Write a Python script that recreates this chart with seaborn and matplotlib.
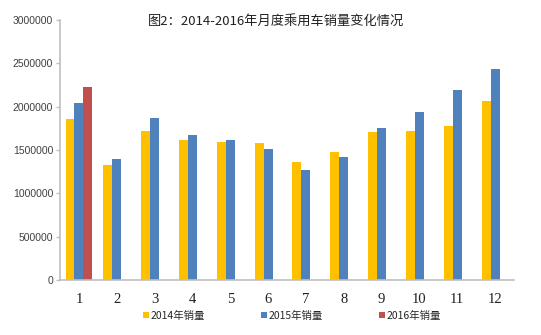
import matplotlib
matplotlib.use("Agg")
import matplotlib.pyplot as plt
import seaborn as sns
import pandas as pd
import numpy as np
from matplotlib.patches import Patch

months = ["1", "2", "3", "4", "5", "6", "7", "8", "9", "10", "11", "12"]
sales_2014 = [1857000, 1323000, 1723000, 1615000, 1596000, 1577000,
              1365000, 1477000, 1708000, 1715000, 1781000, 2069000]
sales_2015 = [2040000, 1396000, 1869000, 1673000, 1611000, 1515000,
              1269000, 1419000, 1750000, 1935000, 2196000, 2438000]
sales_2016 = [2223000] + [np.nan] * 11
series_names = ["2014年销量", "2015年销量", "2016年销量"]
colors = ["#FFC000", "#4F81BD", "#C0504D"]
yticks = [0, 500000, 1000000, 1500000, 2000000, 2500000, 3000000]

df = pd.DataFrame({
    "月份": months * 3,
    "销量": sales_2014 + sales_2015 + sales_2016,
    "系列": [s for s in series_names for _ in months],
})

sns.set_theme(style="white")
plt.rcParams["font.family"] = ["Noto Sans CJK SC", "DejaVu Sans"]

fig = plt.figure(figsize=(5.41, 3.35), dpi=100)
ax = fig.add_axes([0.111, 0.164, 0.839, 0.776])

sns.barplot(data=df, x="月份", y="销量", hue="系列", hue_order=series_names,
            order=months, palette=colors, width=0.71, ax=ax, legend=False,
            saturation=1, linewidth=0)

ax.set_xlim(-0.5, 11.5)
ax.set_ylim(0, 3000000)
ax.set_yticks(yticks)
ax.set_yticklabels([str(v) for v in yticks], fontsize=7.5, color="#404040",
                   family=["Liberation Sans", "DejaVu Sans"])
ax.set_xticks(range(len(months)))
ax.set_xticklabels(months, fontsize=10.5, color="#202020",
                   family=["Liberation Serif", "DejaVu Serif"])
ax.set_xticks(np.arange(-0.5, 12, 1), minor=True)
ax.tick_params(axis="x", which="major", length=0, pad=9)
ax.tick_params(axis="x", which="minor", length=4, color="#BFBFBF", width=1, direction="out")
ax.tick_params(axis="y", length=3, color="#BFBFBF", width=1, direction="out", pad=2, left=True)
ax.set_xlabel("")
ax.set_ylabel("")

for side in ["top", "right"]:
    ax.spines[side].set_visible(False)
for side in ["left", "bottom"]:
    ax.spines[side].set_color("#BFBFBF")
    ax.spines[side].set_linewidth(1.2)

fig.text(0.51, 0.935, "图2：2014-2016年月度乘用车销量变化情况", ha="center", va="center",
         fontsize=9.5, color="#202020")

handles = [Patch(facecolor=c, edgecolor="none") for c in colors]
fig.legend(handles, series_names, loc="center", bbox_to_anchor=(0.54, 0.057), ncol=3,
           frameon=False, fontsize=7.5, handlelength=0.55, handleheight=0.55,
           handletextpad=0.15, columnspacing=5.4)

fig.savefig("out.png", dpi=100)
